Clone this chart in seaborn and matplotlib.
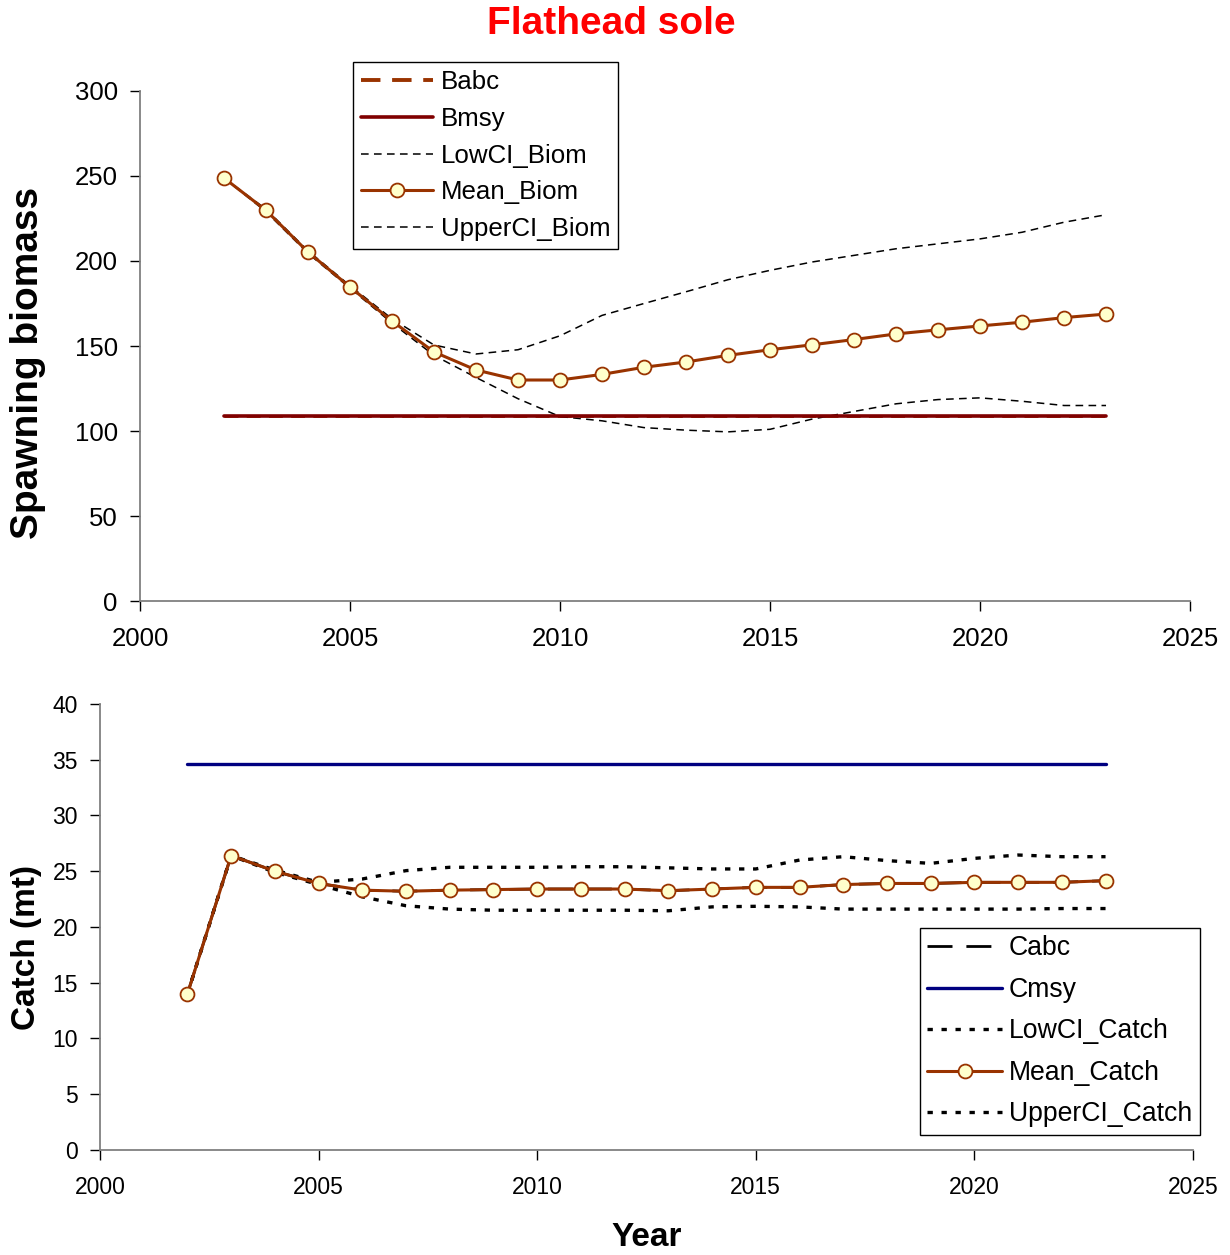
import numpy as np
import matplotlib
matplotlib.use("Agg")
import matplotlib.pyplot as plt
import seaborn as sns

# years of the projection
years = np.arange(2002, 2024)

# spawning biomass (top panel)
mean_biom = [248.8, 229.8, 205.3, 184.7, 164.7, 146.5, 135.9, 130.0, 130.0, 133.3, 137.5,
             140.6, 144.5, 147.8, 150.7, 153.8, 157.1, 159.5, 161.8, 164.0, 166.7, 168.8]
upper_biom = [248.8, 230.5, 206.0, 185.5, 166.0, 150.6, 145.3, 147.8, 156.0, 168.0, 175.0,
              181.9, 189.0, 194.5, 199.4, 203.3, 207.2, 210.1, 213.0, 216.9, 222.8, 227.2]
lower_biom = [248.8, 229.0, 204.5, 184.0, 163.5, 144.5, 131.5, 119.0, 108.5, 106.0, 102.0,
              100.5, 99.5, 101.0, 107.0, 111.5, 116.0, 118.5, 119.5, 117.5, 115.0, 115.0]
bmsy = [108.8] * len(years)
babc = [108.8] * len(years)

# catch (bottom panel)
mean_catch = [14.0, 26.4, 25.0, 23.9, 23.3, 23.2, 23.3, 23.35, 23.4, 23.4, 23.4,
              23.25, 23.4, 23.55, 23.55, 23.8, 23.9, 23.9, 24.0, 24.0, 24.0, 24.15]
upper_catch = [14.0, 26.4, 25.1, 24.0, 24.3, 25.05, 25.35, 25.35, 25.35, 25.4, 25.4,
               25.3, 25.2, 25.2, 26.0, 26.3, 25.95, 25.7, 26.15, 26.45, 26.3, 26.3]
lower_catch = [14.0, 26.4, 24.9, 23.8, 22.7, 21.9, 21.6, 21.5, 21.5, 21.5, 21.5,
               21.45, 21.8, 21.85, 21.8, 21.6, 21.6, 21.6, 21.6, 21.6, 21.65, 21.65]
cmsy = [34.6] * len(years)
cabc = mean_catch

BROWN = "#993300"
FACE = "#FFFFCC"

sns.set_style("ticks")
plt.rcParams["font.family"] = ["Liberation Sans", "DejaVu Sans"]
plt.rcParams["text.color"] = "black"
plt.rcParams["axes.labelcolor"] = "black"
plt.rcParams["xtick.color"] = "black"
plt.rcParams["ytick.color"] = "black"

fig = plt.figure(figsize=(12.3, 12.55), dpi=100)
ax1 = fig.add_axes([0.1138, 0.5211, 0.8537, 0.4064])
ax2 = fig.add_axes([0.0813, 0.0837, 0.8886, 0.3554])

# --- top panel: spawning biomass
sns.lineplot(x=years, y=babc, ax=ax1, color=BROWN, lw=2.0, linestyle=(0, (5, 3)),
             label="Babc", zorder=2)
sns.lineplot(x=years, y=bmsy, ax=ax1, color="#800000", lw=2.6, label="Bmsy", zorder=3)
sns.lineplot(x=years, y=lower_biom, ax=ax1, color="black", lw=1.1,
             linestyle=(0, (5, 3.5)), label="LowCI_Biom", zorder=2)
sns.lineplot(x=years, y=mean_biom, ax=ax1, color=BROWN, lw=2.2, marker="o", ms=10,
             markerfacecolor=FACE, markeredgecolor=BROWN, markeredgewidth=1.3,
             label="Mean_Biom", zorder=4)
sns.lineplot(x=years, y=upper_biom, ax=ax1, color="black", lw=1.1,
             linestyle=(0, (5, 3.5)), label="UpperCI_Biom", zorder=2)

ax1.set_xlim(2000, 2025)
ax1.set_ylim(0, 300)
ax1.set_xticks(range(2000, 2026, 5))
ax1.set_yticks(range(0, 301, 50))
ax1.tick_params(direction="out", length=7, width=1, colors="black", labelsize=18.5)
ax1.tick_params(axis="x", pad=12)
ax1.tick_params(axis="y", pad=9)
ax1.set_xlabel("")
ax1.set_ylabel("Spawning biomass", fontsize=28, fontweight="bold", va="center",
               color="black")
ax1.yaxis.set_label_coords(-0.107, 0.467)
fig.suptitle("Flathead sole", x=611 / 1230, y=1 - 24 / 1255, va="center",
             fontsize=28, fontweight="bold", color="red")
leg1 = ax1.legend(loc="upper left", bbox_to_anchor=(353 / 1230, 1 - 62 / 1255),
                  bbox_transform=fig.transFigure, fontsize=18.6, frameon=True,
                  fancybox=False, edgecolor="black", framealpha=1, handlelength=2.8,
                  handletextpad=0.3, labelspacing=0.5, borderpad=0.3, borderaxespad=0)
leg1.get_frame().set_linewidth(1)
leg1.get_lines()[0].set_linewidth(2.8)

# --- bottom panel: catch
sns.lineplot(x=years, y=cabc, ax=ax2, color="black", lw=2, linestyle=(0, (9, 5)),
             label="Cabc", zorder=2)
sns.lineplot(x=years, y=cmsy, ax=ax2, color="#000080", lw=2.4, label="Cmsy", zorder=3)
sns.lineplot(x=years, y=lower_catch, ax=ax2, color="black", lw=2.4,
             linestyle=(0, (1.6, 2.6)), label="LowCI_Catch", zorder=2)
sns.lineplot(x=years, y=mean_catch, ax=ax2, color=BROWN, lw=2.2, marker="o", ms=10,
             markerfacecolor=FACE, markeredgecolor=BROWN, markeredgewidth=1.3,
             label="Mean_Catch", zorder=4)
sns.lineplot(x=years, y=upper_catch, ax=ax2, color="black", lw=2.4,
             linestyle=(0, (1.6, 2.6)), label="UpperCI_Catch", zorder=2)

ax2.set_xlim(2000, 2025)
ax2.set_ylim(0, 40)
ax2.set_xticks(range(2000, 2026, 5))
ax2.set_yticks(range(0, 41, 5))
ax2.tick_params(direction="out", length=7, width=1, colors="black", labelsize=16.5)
ax2.tick_params(axis="x", pad=12)
ax2.tick_params(axis="y", pad=9)
ax2.set_xlabel("Year", fontsize=24, fontweight="bold", color="black")
ax2.xaxis.set_label_coords(0.5, -0.197)
ax2.xaxis.label.set_va("center")
ax2.set_ylabel("Catch (mt)", fontsize=24, fontweight="bold", va="center", color="black")
ax2.yaxis.set_label_coords(-0.067, 0.455)
leg2 = ax2.legend(loc="upper left", bbox_to_anchor=(920 / 1230, 1 - 928 / 1255),
                  bbox_transform=fig.transFigure, fontsize=19.2, frameon=True,
                  fancybox=False, edgecolor="black", framealpha=1, handlelength=2.8,
                  handletextpad=0.25, labelspacing=0.58, borderpad=0.28, borderaxespad=0)
leg2.get_frame().set_linewidth(1)

for ax in (ax1, ax2):
    sns.despine(ax=ax)
    for side in ("left", "bottom"):
        ax.spines[side].set_color("#808080")
        ax.spines[side].set_linewidth(1.3)
    ax.grid(False)

fig.savefig("out.png", dpi=100)
